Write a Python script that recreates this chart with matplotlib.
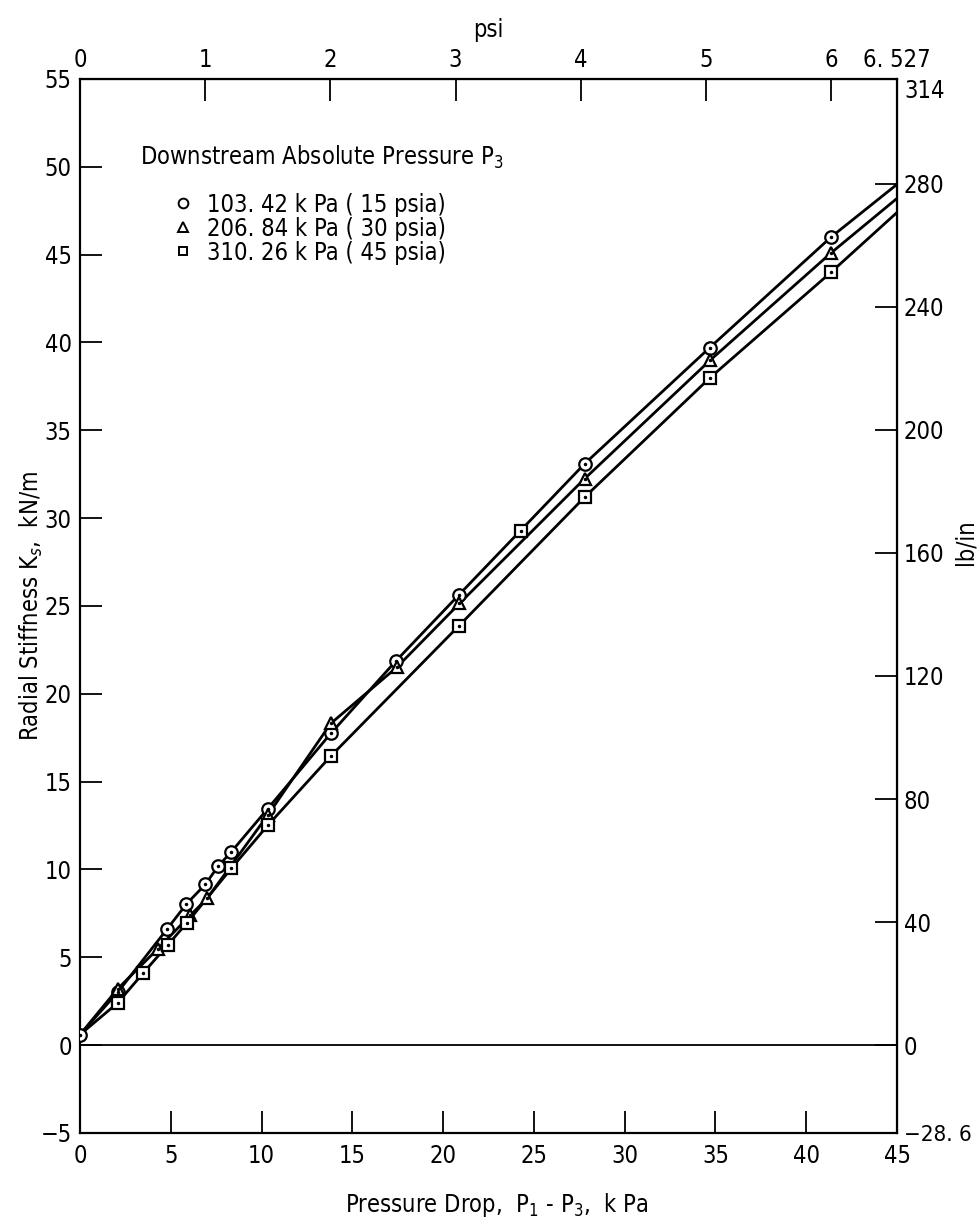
import matplotlib
matplotlib.use('Agg')
import matplotlib.pyplot as plt
from matplotlib.lines import Line2D

plt.rcParams['font.family'] = ['DejaVu Sans']
plt.rcParams['font.stretch'] = 'condensed'
plt.rcParams['mathtext.fontset'] = 'dejavusans'

KPA_PER_PSI = 6.895
LB_PER_KN = 5.71
X_MAX, Y_MIN, Y_MAX = 45, -5, 55

# ── data (kPa, kN/m) ────────────────────────────────────────
x_15 = [0, 2.07, 4.79, 5.86, 6.91, 7.61, 8.33, 10.35, 13.81, 17.4, 20.85, 27.8, 34.68, 41.37]
y_15 = [0.6, 3.0, 6.6, 8.03, 9.16, 10.19, 11.0, 13.47, 17.74, 21.87, 25.61, 33.1, 39.7, 46.0]

x_30 = [2.07, 4.3, 6.08, 7.0, 10.35, 13.81, 17.44, 20.9, 27.8, 34.71, 41.37]
y_30 = [3.2, 5.5, 7.4, 8.35, 13.1, 18.31, 21.5, 25.14, 32.25, 38.99, 45.1]

x_45 = [2.07, 3.46, 4.84, 5.89, 8.33, 10.35, 13.81, 20.87, 27.8, 34.71, 41.37]
y_45 = [2.4, 4.08, 5.71, 6.96, 10.06, 12.52, 16.45, 23.87, 31.2, 38.0, 44.0]

# lone square sitting on the upper curve at 3.5 psi
x_extra = [24.3]
y_extra = [29.25]

# curve start / end (lines only)
curve_start = (0, 0.6)
end_15, end_30, end_45 = 49.0, 48.2, 47.4

psi_ticks = [0, 1, 2, 3, 4, 5, 6, X_MAX / KPA_PER_PSI]
psi_labels = ['0', '1', '2', '3', '4', '5', '6', '6. 527']
lb_ticks = [Y_MIN * LB_PER_KN, 0, 40, 80, 120, 160, 200, 240, 280, Y_MAX * LB_PER_KN]
lb_labels = ['\u221228. 6', '0', '40', '80', '120', '160', '200', '240', '280', '314']

fig = plt.figure(figsize=(9.78, 12.18), dpi=100)
ax = fig.add_axes([0.0818, 0.0698, 0.8354, 0.8654])

FS = 17
lw = 2.0
MEW = 1.6

def draw(xs, ys, yend, marker, ms):
    lx = [curve_start[0]] + xs + [X_MAX]
    ly = [curve_start[1]] + ys + [yend]
    ax.plot(lx, ly, color='black', linewidth=lw, zorder=2)
    ax.plot(xs, ys, linestyle='none', marker=marker, markersize=ms,
            markerfacecolor='white', markeredgecolor='black',
            markeredgewidth=MEW, zorder=3)
    ax.plot(xs, ys, linestyle='none', marker='.', markersize=3,
            color='black', zorder=4)

draw(x_15, y_15, end_15, 'o', 9)
draw(x_30, y_30, end_30, '^', 9)
draw(x_45, y_45, end_45, 's', 8)
ax.plot(x_extra, y_extra, linestyle='none', marker='s', markersize=8,
        markerfacecolor='white', markeredgecolor='black', markeredgewidth=MEW, zorder=3)
ax.plot(x_extra, y_extra, linestyle='none', marker='.', markersize=3, color='black', zorder=4)

ax.axhline(0, color='black', linewidth=1.3, zorder=1)

ax.set_xlim(0, X_MAX)
ax.set_ylim(Y_MIN, Y_MAX)
ax.set_xticks(range(0, 46, 5))
ax.set_yticks(range(-5, 56, 5))
ax.set_yticklabels(['\u22125' if v == -5 else str(v) for v in range(-5, 56, 5)])
ax.tick_params(direction='in', length=16, width=1.3, labelsize=FS)
ax.tick_params(axis='x', pad=8)
ax.tick_params(axis='y', pad=6)
for s in ax.spines.values():
    s.set_linewidth(1.6)

ax.set_xlabel('Pressure Drop,  P$_1$ - P$_3$,  k Pa', fontsize=FS)
ax.xaxis.set_label_coords(0.51, -0.055)
ax.set_ylabel('Radial Stiffness K$_s$,  kN/m', fontsize=FS)
ax.yaxis.set_label_coords(-0.043, 0.5)

top = ax.secondary_xaxis('top', functions=(lambda v: v / KPA_PER_PSI,
                                           lambda v: v * KPA_PER_PSI))
top.set_xticks(psi_ticks)
top.set_xticklabels(psi_labels)
top.tick_params(direction='in', length=16, width=1.3, labelsize=FS, pad=5)
top.set_xlabel('psi', fontsize=FS, labelpad=8)

right = ax.secondary_yaxis('right', functions=(lambda v: v * LB_PER_KN,
                                               lambda v: v / LB_PER_KN))
right.set_yticks(lb_ticks)
right.set_yticklabels(lb_labels)
right.tick_params(direction='in', length=16, width=1.3, labelsize=FS, pad=5)
right.get_yticklabels()[-1].set_verticalalignment('top')
right.get_yticklabels()[0].set_fontsize(16)
fig.text(966 / 978, 1 - 542 / 1218, 'lb/in', rotation=90, fontsize=FS,
         ha='center', va='center')

ax.text(0.0734, 0.926, 'Downstream Absolute Pressure P$_3$', transform=ax.transAxes,
        fontsize=FS, ha='left', va='center')

handles = [
    Line2D([], [], linestyle='none', marker='o', markersize=7, markerfacecolor='white',
           markeredgecolor='black', markeredgewidth=1.4),
    Line2D([], [], linestyle='none', marker='^', markersize=7, markerfacecolor='white',
           markeredgecolor='black', markeredgewidth=1.4),
    Line2D([], [], linestyle='none', marker='s', markersize=6, markerfacecolor='white',
           markeredgecolor='black', markeredgewidth=1.4),
]
labels = ['103. 42 k Pa ( 15 psia)', '206. 84 k Pa ( 30 psia)', '310. 26 k Pa ( 45 psia)']
leg = ax.legend(handles, labels, loc='upper left', bbox_to_anchor=(0.103, 0.901),
                frameon=False, fontsize=FS, handlelength=0.8, handletextpad=0.6,
                labelspacing=0.0, borderaxespad=0)

fig.savefig('out.png', dpi=100)
